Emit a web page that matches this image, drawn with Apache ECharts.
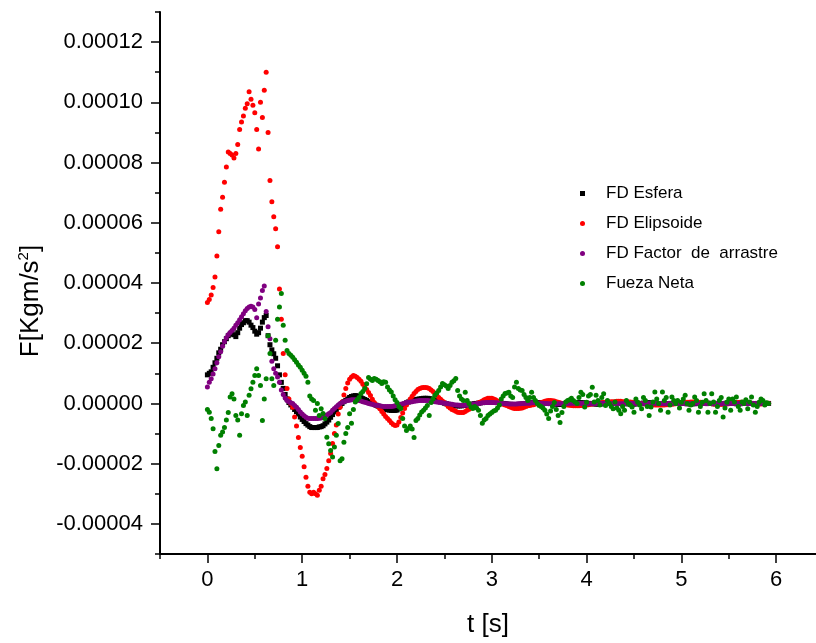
<!DOCTYPE html>
<html>
<head>
<meta charset="utf-8">
<script src="https://cdn.jsdelivr.net/npm/echarts@6/dist/echarts.min.js"></script>
<style>
  html, body { margin: 0; padding: 0; background: #fff; }
  #chart { width: 816px; height: 643px; }
</style>
</head>
<body>
<div id="chart"></div>
<script>
// Sampling step of the recorded forces (s); every series starts at t = 0.
const DT = 0.02;
// Forces in units of 1e-5 N, one value per sample.
const fdEsfera = [
  0.95, 1.0, 1.05, 1.2, 1.35, 1.5, 1.68, 1.8, 1.95, 2.05,
  2.15, 2.25, 2.3, 2.35, 2.28, 2.22, 2.35, 2.5, 2.62, 2.68,
  2.75, 2.75, 2.7, 2.6, 2.52, 2.4, 2.3, 2.35, 2.5, 2.7,
  2.85, 2.92, 2.25, 1.95, 1.78, 1.65, 1.5, 1.25, 0.95, 0.7,
  0.5, 0.3, 0.15, 0.03, -0.05, -0.12, -0.2, -0.27, -0.35, -0.45,
  -0.53, -0.6, -0.67, -0.72, -0.77, -0.8, -0.8, -0.8, -0.8, -0.78,
  -0.77, -0.74, -0.68, -0.62, -0.55, -0.46, -0.37, -0.28, -0.2, -0.13,
  -0.06, 0.0, 0.06, 0.1, 0.15, 0.2, 0.23, 0.25, 0.26, 0.25,
  0.22, 0.19, 0.16, 0.13, 0.1, 0.06, 0.03, 0.0, -0.03, -0.06,
  -0.09, -0.12, -0.15, -0.17, -0.19, -0.21, -0.22, -0.23, -0.23, -0.23,
  -0.22, -0.18, -0.12, -0.07, -0.02, 0.02, 0.05, 0.08, 0.1, 0.12,
  0.13, 0.14, 0.15, 0.16, 0.17, 0.17, 0.17, 0.16, 0.15, 0.13,
  0.11, 0.09, 0.07, 0.05, 0.03, 0.01, -0.01, -0.03, -0.05, -0.06,
  -0.07, -0.08, -0.08, -0.08, -0.08, -0.07, -0.06, -0.05, -0.04, -0.03,
  -0.02, -0.01, 0.0, 0.01, 0.02, 0.03, 0.04, 0.05, 0.05, 0.05,
  0.05, 0.04, 0.04, 0.03, 0.02, 0.01, 0.0, -0.01, -0.02, -0.03,
  -0.03, -0.04, -0.04, -0.04, -0.03, -0.03, -0.02, -0.01, 0.0, 0.01,
  0.01, 0.02, 0.02, 0.03, 0.03, 0.03, 0.03, 0.02, 0.02, 0.01,
  0.0, 0.0, -0.01, -0.02, -0.02, -0.03, -0.03, -0.03, -0.02, -0.02,
  -0.01, -0.01, 0.0, 0.01, 0.01, 0.02, 0.02, 0.02, 0.02, 0.01,
  0.01, 0.0, 0.0, -0.01, -0.01, -0.02, -0.02, -0.02, -0.01, -0.01,
  0.0, 0.0, 0.01, 0.01, 0.02, 0.02, 0.02, 0.01, 0.01, 0.0,
  0.0, -0.01, -0.01, -0.02, -0.02, -0.02, -0.01, -0.01, 0.0, 0.0,
  0.01, 0.01, 0.02, 0.02, 0.01, 0.01, 0.0, 0.0, -0.01, -0.01,
  -0.02, -0.02, -0.01, -0.01, 0.0, 0.0, 0.01, 0.01, 0.02, 0.01,
  0.01, 0.0, 0.0, -0.01, -0.01, -0.02, -0.01, -0.01, 0.0, 0.0,
  0.01, 0.01, 0.02, 0.01, 0.01, 0.0, 0.0, -0.01, -0.01, -0.02,
  -0.01, -0.01, 0.0, 0.0, 0.01, 0.01, 0.01, 0.0, 0.0, -0.01,
  -0.01, -0.01, 0.0, 0.0, 0.01, 0.01, 0.0, 0.0, -0.01, -0.01,
  0.0, 0.0, 0.01, 0.01, 0.0, 0.0, 0.0
];
const fdElipsoide = [
  3.35, 3.45, 3.6, 3.85, 4.2, 4.9, 5.7, 6.45, 6.85, 7.35,
  7.85, 8.35, 8.3, 8.25, 8.15, 8.3, 8.6, 9.1, 9.35, 9.55,
  9.8, 9.95, 10.35, 10.1, 9.9, 9.65, 9.1, 8.45, 10.0, 9.5,
  10.4, 11.0, 9.0, 7.4, 6.7, 6.2, 5.8, 5.2, 3.8, 2.8,
  1.66, 0.95, 0.5, 0.15, 0.0, -0.13, -0.45, -0.75, -1.13, -1.46,
  -1.75, -2.1, -2.45, -2.75, -2.95, -3.0, -2.95, -3.0, -3.05, -2.88,
  -2.75, -2.5, -2.36, -2.16, -1.9, -1.66, -1.33, -1.0, -0.72, -0.35,
  -0.13, 0.05, 0.28, 0.5, 0.68, 0.8, 0.88, 0.93, 0.9, 0.86,
  0.8, 0.74, 0.64, 0.55, 0.46, 0.36, 0.26, 0.14, 0.03, -0.04,
  -0.1, -0.18, -0.27, -0.35, -0.43, -0.5, -0.57, -0.64, -0.7, -0.73,
  -0.72, -0.62, -0.47, -0.32, -0.17, -0.05, 0.05, 0.15, 0.24, 0.33,
  0.4, 0.46, 0.5, 0.52, 0.53, 0.53, 0.52, 0.5, 0.45, 0.4,
  0.33, 0.26, 0.2, 0.14, 0.08, 0.03, -0.03, -0.1, -0.15, -0.2,
  -0.23, -0.26, -0.29, -0.3, -0.3, -0.3, -0.27, -0.23, -0.19, -0.15,
  -0.12, -0.07, -0.02, 0.02, 0.05, 0.08, 0.12, 0.15, 0.17, 0.17,
  0.17, 0.15, 0.12, 0.08, 0.04, 0.0, -0.03, -0.05, -0.07, -0.1,
  -0.13, -0.15, -0.17, -0.17, -0.17, -0.16, -0.15, -0.13, -0.1, -0.08,
  -0.07, -0.05, -0.04, -0.02, 0.0, 0.01, 0.03, 0.05, 0.07, 0.09,
  0.1, 0.1, 0.09, 0.08, 0.06, 0.04, 0.02, 0.0, -0.02, -0.04,
  -0.05, -0.06, -0.07, -0.08, -0.08, -0.08, -0.08, -0.07, -0.07, -0.06,
  -0.05, -0.04, -0.03, -0.02, -0.01, 0.0, 0.01, 0.02, 0.03, 0.04,
  0.04, 0.05, 0.05, 0.06, 0.06, 0.06, 0.07, 0.07, 0.07, 0.06,
  0.06, 0.06, 0.05, 0.05, 0.04, 0.03, 0.03, 0.02, 0.01, 0.0,
  -0.01, -0.02, -0.02, -0.03, -0.04, -0.04, -0.05, -0.05, -0.05, -0.05,
  -0.05, -0.05, -0.04, -0.04, -0.03, -0.03, -0.02, -0.01, 0.0, 0.01,
  0.02, 0.02, 0.03, 0.04, 0.04, 0.05, 0.05, 0.05, 0.05, 0.04,
  0.04, 0.03, 0.03, 0.02, 0.01, 0.0, -0.01, -0.02, -0.02, -0.03,
  -0.03, -0.03, -0.03, -0.02, -0.02, -0.01, 0.0, 0.01, 0.02, 0.03,
  0.03, 0.04, 0.04, 0.04, 0.03, 0.03, 0.02, 0.01, 0.0, -0.01,
  -0.01, -0.02, -0.02, -0.01, 0.0, 0.0, 0.01
];
const fdFactorArrastre = [
  0.55, 0.7, 0.82, 0.98, 1.15, 1.35, 1.55, 1.72, 1.9, 2.05,
  2.18, 2.28, 2.36, 2.42, 2.5, 2.6, 2.68, 2.78, 2.88, 2.98,
  3.08, 3.15, 3.2, 3.23, 3.2, 3.12, 2.85, 3.3, 3.5, 3.75,
  3.9, 3.05, 2.55, 2.15, 1.4, 1.15, 1.0, 0.88, 0.7, 0.45,
  0.3, 0.18, 0.1, 0.06, 0.02, 0.0, -0.07, -0.13, -0.2, -0.28,
  -0.35, -0.41, -0.46, -0.49, -0.5, -0.5, -0.5, -0.5, -0.5, -0.49,
  -0.48, -0.46, -0.42, -0.38, -0.34, -0.3, -0.23, -0.17, -0.11, -0.05,
  0.0, 0.03, 0.06, 0.08, 0.1, 0.11, 0.12, 0.12, 0.12, 0.11,
  0.1, 0.08, 0.06, 0.04, 0.02, 0.0, -0.02, -0.03, -0.05, -0.06,
  -0.07, -0.08, -0.09, -0.1, -0.1, -0.1, -0.1, -0.1, -0.09, -0.08,
  -0.07, -0.05, -0.03, -0.01, 0.01, 0.03, 0.04, 0.05, 0.06, 0.07,
  0.08, 0.09, 0.1, 0.1, 0.1, 0.1, 0.1, 0.09, 0.08, 0.07,
  0.06, 0.05, 0.04, 0.03, 0.02, 0.01, 0.0, -0.01, -0.02, -0.03,
  -0.04, -0.05, -0.05, -0.06, -0.06, -0.06, -0.06, -0.05, -0.05, -0.04,
  -0.03, -0.02, -0.01, 0.0, 0.01, 0.02, 0.02, 0.03, 0.03, 0.03,
  0.03, 0.03, 0.02, 0.02, 0.01, 0.0, 0.0, -0.01, -0.01, -0.02,
  -0.02, -0.02, -0.02, -0.02, -0.01, -0.01, 0.0, 0.0, 0.01, 0.01,
  0.01, 0.02, 0.02, 0.02, 0.02, 0.01, 0.01, 0.01, 0.0, 0.0,
  -0.01, -0.01, -0.01, -0.02, -0.02, -0.01, -0.01, -0.01, 0.0, 0.0,
  0.0, 0.01, 0.01, 0.01, 0.01, 0.01, 0.01, 0.0, 0.0, 0.0,
  -0.01, -0.01, -0.01, -0.01, -0.01, 0.0, 0.0, 0.0, 0.01, 0.01,
  0.01, 0.01, 0.01, 0.0, 0.0, 0.0, -0.01, -0.01, -0.01, -0.01,
  0.0, 0.0, 0.0, 0.01, 0.01, 0.01, 0.0, 0.0, 0.0, -0.01,
  -0.01, -0.01, 0.0, 0.0, 0.0, 0.01, 0.01, 0.01, 0.0, 0.0,
  0.0, -0.01, -0.01, 0.0, 0.0, 0.0, 0.01, 0.01, 0.0, 0.0,
  0.0, 0.0, -0.01, -0.01, 0.0, 0.0, 0.0, 0.01, 0.01, 0.0,
  0.0, 0.0, 0.0, -0.01, -0.01, 0.0, 0.0, 0.0, 0.01, 0.0,
  0.0, 0.0, 0.0, 0.0, -0.01, 0.0, 0.0, 0.0, 0.0, 0.01,
  0.01, 0.0, 0.0, 0.0, 0.0, -0.01, 0.0, 0.0, 0.0, 0.0,
  0.0, 0.0, 0.01, 0.0, 0.0, 0.0, 0.0
];
const fuezaNeta = [
  -0.2, -0.29, -0.5, -0.84, -1.6, -2.17, -1.4, -1.06, -0.95, -0.8,
  -0.55, -0.3, 0.21, 0.32, 0.15, -0.4, -0.55, -1.06, -0.34, -0.07,
  0.05, -0.4, 0.27, 0.49, 0.7, 0.93, 1.15, 0.93, 0.6, -0.57,
  0.15, 0.82, 2.25, 1.66, 0.82, 0.6, 2.1, 2.8, 3.2, 3.65,
  2.6, 2.1, 1.76, 1.66, 1.6, 1.53, 1.45, 1.37, 1.28, 1.2,
  1.1, 1.0, 0.9, 0.7, 0.25, 0.15, 0.1, -0.23, 0.0, -0.4,
  -0.18, -0.33, -0.5, -1.12, -1.34, -1.56, -1.78, -1.45, -1.06, -0.67,
  -1.9, -1.84, -1.29, -1.0, -0.8, -0.34, -0.66, -0.2, 0.05, 0.12,
  0.2, 0.33, 0.4, 0.5, 0.65, 0.86, 0.8, 0.76, 0.83, 0.8,
  0.76, 0.72, 0.66, 0.72, 0.7, 0.55, 0.45, 0.38, 0.25, 0.12,
  0.03, -0.1, -0.17, -0.5, -0.75, -0.9, -0.83, -0.75, -0.85, -1.13,
  -0.57, -0.5, -0.38, -0.28, -0.23, -0.15, -0.07, -0.4, 0.03, 0.15,
  0.27, 0.35, 0.43, 0.55, 0.66, 0.62, 0.58, 0.5, 0.6, 0.7,
  0.75, 0.83, 0.43, 0.25, 0.15, 0.1, 0.37, 0.1, 0.0, -0.12,
  -0.17, -0.1, -0.15, -0.23, -0.4, -0.66, -0.55, -0.5, -0.4, -0.35,
  -0.3, -0.25, -0.23, -0.15, -0.05, 0.15, 0.25, 0.33, 0.35, 0.37,
  0.25, 0.2, 0.55, 0.7, 0.5, 0.45, 0.43, 0.3, 0.2, 0.1,
  0.2, 0.37, 0.2, 0.1, 0.0, -0.07, -0.1, -0.15, -0.23, -0.35,
  -0.5, -0.25, -0.1, 0.03, -0.2, -0.4, -0.63, -0.3, -0.1, 0.05,
  0.1, 0.12, 0.17, 0.1, 0.05, 0.0, 0.2, 0.37, 0.3, -0.12,
  0.04, 0.25, 0.3, 0.54, 0.05, 0.27, 0.1, -0.05, 0.2, 0.32,
  -0.07, 0.1, 0.0, -0.1, -0.18, 0.05, -0.15, -0.23, -0.34, -0.1,
  -0.23, 0.1, 0.0, -0.05, -0.12, -0.29, 0.15, 0.04, -0.05, -0.18,
  0.2, 0.1, -0.1, -0.4, -0.12, 0.05, 0.38, 0.15, 0.0, -0.23,
  0.38, 0.1, 0.2, -0.29, -0.05, 0.21, 0.1, 0.0, 0.1, -0.15,
  0.04, 0.15, 0.27, 0.0, -0.23, -0.05, 0.0, 0.21, 0.1, -0.29,
  -0.1, 0.04, 0.32, 0.1, -0.29, 0.0, 0.32, 0.05, -0.29, -0.1,
  0.1, 0.2, -0.45, -0.15, 0.04, 0.15, -0.23, 0.15, 0.05, 0.21,
  -0.1, -0.23, 0.05, 0.0, 0.12, -0.18, 0.05, 0.21, -0.05, -0.29,
  -0.1, 0.04, 0.15, 0.1, -0.05, 0.02, 0.0
];

const xTickValues = [0, 1, 2, 3, 4, 5, 6];
const xMinorTickValues = [-0.5, 0.5, 1.5, 2.5, 3.5, 4.5, 5.5];
const yTickValues = [-0.00004, -0.00002, 0, 0.00002, 0.00004, 0.00006, 0.00008, 0.00010, 0.00012];
const yMinorTickValues = [-0.00005, -0.00003, -0.00001, 0.00001, 0.00003, 0.00005, 0.00007, 0.00009, 0.00011, 0.00013];

const FONT = '"Liberation Sans", Arial, sans-serif';
const toPoints = vals => vals.map((v, i) => [+(i * DT).toFixed(2), v * 1e-5]);

// The time axis runs from -0.5 s off to the right edge of the page.
const plotBox = { left: 160, top: 12, right: 0, bottom: 89 };
const X_RANGE = { min: -0.5, max: 6.42 };
const Y_RANGE = { min: -0.00005, max: 0.00013 };
const axisInk = { color: '#000', width: 2 };
const tickInk = { color: '#000', width: 1.5 };

const chart = echarts.init(document.getElementById('chart'), null, { renderer: 'canvas' });

function dots(name, symbol, color, values) {
  return {
    name, type: 'scatter', xAxisIndex: 0, yAxisIndex: 0,
    symbol, symbolSize: 5,
    itemStyle: { color, opacity: 1 },
    emphasis: { disabled: true },
    data: toPoints(values)
  };
}

chart.setOption({
  animation: false,
  backgroundColor: '#fff',
  grid: [Object.assign({}, plotBox), Object.assign({}, plotBox)],
  legend: {
    orient: 'vertical',
    left: 575,
    top: 180,
    itemWidth: 5,
    itemHeight: 5,
    itemGap: 13,
    selectedMode: false,
    textStyle: { fontSize: 17, color: '#000', fontFamily: FONT, padding: [0, 0, 0, 16] },
    data: ['FD Esfera', 'FD Elipsoide', 'FD Factor  de  arrastre', 'Fueza Neta']
  },
  xAxis: [
    {
      type: 'value', gridIndex: 0, position: 'bottom',
      min: X_RANGE.min, max: X_RANGE.max,
      name: 't [s]', nameLocation: 'middle', nameGap: 58,
      nameTextStyle: { fontSize: 26, color: '#000', fontFamily: FONT },
      axisLine: { onZero: false, lineStyle: axisInk },
      axisTick: { customValues: xTickValues, length: 9, lineStyle: tickInk },
      axisLabel: { customValues: xTickValues, margin: 15, fontSize: 22, color: '#000', fontFamily: FONT,
                   formatter: v => String(v) },
      splitLine: { show: false }
    },
    {
      type: 'value', gridIndex: 1, position: 'bottom',
      min: X_RANGE.min, max: X_RANGE.max,
      axisLine: { show: false, onZero: false },
      axisTick: { customValues: xMinorTickValues, length: 5, lineStyle: tickInk },
      axisLabel: { show: false },
      splitLine: { show: false }
    }
  ],
  yAxis: [
    {
      type: 'value', gridIndex: 0, position: 'left',
      min: Y_RANGE.min, max: Y_RANGE.max,
      name: '{t|F[Kgm/s}{s|2}{t|]}', nameLocation: 'middle', nameGap: 114, nameRotate: 90,
      nameTextStyle: {
        fontSize: 26, color: '#000', fontFamily: FONT,
        padding: [0, 36, 0, 0],
        rich: {
          t: { fontSize: 26, color: '#000', fontFamily: FONT, lineHeight: 30 },
          s: { fontSize: 15, color: '#000', fontFamily: FONT, verticalAlign: 'top', lineHeight: 30, padding: [0, 0, 14, 0] }
        }
      },
      axisLine: { onZero: false, lineStyle: axisInk },
      axisTick: { customValues: yTickValues, length: 9, lineStyle: tickInk },
      axisLabel: { customValues: yTickValues, margin: 17, fontSize: 22, color: '#000', fontFamily: FONT,
                   formatter: v => v.toFixed(5) },
      splitLine: { show: false }
    },
    {
      type: 'value', gridIndex: 1, position: 'left',
      min: Y_RANGE.min, max: Y_RANGE.max,
      axisLine: { show: false, onZero: false },
      axisTick: { customValues: yMinorTickValues, length: 5, lineStyle: tickInk },
      axisLabel: { show: false },
      splitLine: { show: false }
    }
  ],
  series: [
    dots('FD Esfera', 'rect', '#000000', fdEsfera),
    dots('FD Elipsoide', 'circle', '#ff0000', fdElipsoide),
    dots('FD Factor  de  arrastre', 'circle', '#800080', fdFactorArrastre),
    dots('Fueza Neta', 'circle', '#008000', fuezaNeta)
  ]
});
</script>
</body>
</html>
